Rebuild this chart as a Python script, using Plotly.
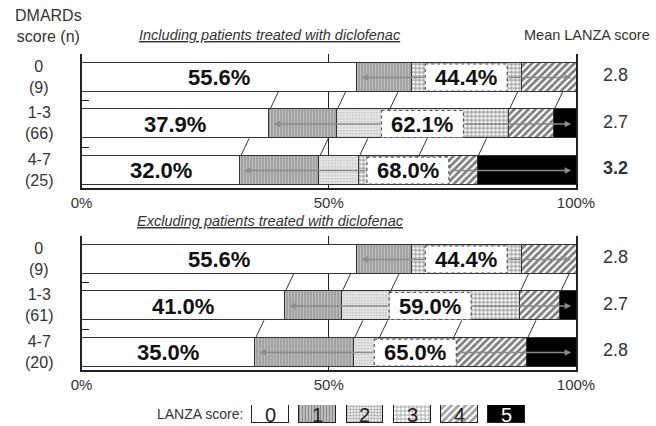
import plotly.graph_objects as go

# ---------------- data ----------------
scores = ["0", "1", "2", "3", "4", "5"]
groups = ["0", "1-3", "4-7"]
n_incl = [9, 66, 25]
n_excl = [9, 61, 20]
# percent of patients with each LANZA score (rows = DMARDs group)
incl_pct = [
    [55.6, 11.1, 0.0, 22.2, 11.1, 0.0],
    [37.9, 13.6, 10.6, 24.2, 9.1, 4.6],
    [32.0, 16.0, 8.0, 12.0, 12.0, 20.0],
]
excl_pct = [
    [55.6, 11.1, 0.0, 22.2, 11.1, 0.0],
    [41.0, 11.5, 9.8, 26.2, 8.2, 3.3],
    [35.0, 20.0, 5.0, 15.0, 15.0, 10.0],
]
mean_incl = ["2.8", "2.7", "3.2"]
mean_excl = ["2.8", "2.7", "2.8"]
mean_bold_incl = [False, False, True]
mean_bold_excl = [False, False, False]
panel_titles = ["Including patients treated with diclofenac",
                "Excluding patients treated with diclofenac"]
x_ticks = [0, 50, 100]
x_ticktext = ["0%", "50%", "100%"]

# ---------------- styles ----------------
FONT = "Arial, Liberation Sans, sans-serif"
styles = [
    dict(color="white", pattern=dict(shape="")),
    dict(color="#c8c8c8", pattern=dict(shape="|", fgcolor="#444444", size=3, solidity=0.45)),
    dict(color="#ececec", pattern=dict(shape=".", fgcolor="#888888", size=3, solidity=0.35)),
    dict(color="white", pattern=dict(shape="+", fgcolor="#000000", size=4, solidity=0.4)),
    dict(color="white", pattern=dict(shape="/", fgcolor="#000000", size=5, solidity=0.55)),
    dict(color="black", pattern=dict(shape="")),
]
W, H = 656, 426
XL, XR = 81.5, 576.0
PX_PER_UNIT = (XR - XL) / 100.0
BAR_W = 0.62
Y_RANGE = [2.376, -0.5]
panel_tops = [54.25, 236.25]
panel_h = 133.75

fig = go.Figure()
shapes = []
annotations = []

def dom_y(top, h):
    return [1 - (top + h) / H, 1 - top / H]

datasets = [(incl_pct, n_incl, mean_incl, mean_bold_incl), (excl_pct, n_excl, mean_excl, mean_bold_excl)]
for p, (pct, ns, means, bolds) in enumerate(datasets):
    xa = "x" if p == 0 else "x2"
    ya = "y" if p == 0 else "y2"
    for s in range(6):
        fig.add_trace(go.Bar(
            orientation="h", y=list(range(3)), x=[row[s] for row in pct],
            width=BAR_W, xaxis=xa, yaxis=ya, showlegend=False, hoverinfo="skip",
            marker=dict(color=styles[s]["color"], pattern=styles[s]["pattern"],
                        line=dict(color="#333333", width=1)),
        ))
    for i, row in enumerate(pct):
        cum = []
        c = 0
        for v in row:
            c += v
            cum.append(c)
        # 3D top-face edges between bars
        if i > 0:
            seen = set()
            for b in cum[:-1]:
                if b >= 99.9 or round(b, 1) in seen:
                    continue
                seen.add(round(b, 1))
                shapes.append(dict(type="line", xref=xa, yref=ya,
                                   x0=b + 0.2, y0=i - BAR_W / 2,
                                   x1=b + 1.9, y1=i - 1 + BAR_W / 2,
                                   line=dict(color="#333333", width=1)))
        # score 0 label
        annotations.append(dict(xref=xa, yref=ya, x=row[0] / 2, y=i,
                                text="<b>%.1f%%</b>" % row[0], showarrow=False,
                                font=dict(family=FONT, size=22, color="#111111")))
        # rest group label box
        start = row[0]
        center = (start + 100) / 2
        half = 41 / PX_PER_UNIT
        shapes.append(dict(type="rect", xref=xa, yref=ya, layer="above",
                           x0=center - half, x1=center + half,
                           y0=i - 0.29, y1=i + 0.29, fillcolor="white",
                           line=dict(color="#555555", width=1.2, dash="dot")))
        annotations.append(dict(xref=xa, yref=ya, x=center, y=i,
                                text="<b>%.1f%%</b>" % (100 - row[0]), showarrow=False,
                                font=dict(family=FONT, size=22, color="#111111")))
        # arrows spanning the group
        for head, tail in [(start + 1.0, center - half), (99.0, center + half)]:
            annotations.append(dict(xref=xa, yref=ya, axref=xa, ayref=ya,
                                    x=head, y=i, ax=tail, ay=i, text="",
                                    showarrow=True, arrowhead=2, arrowsize=0.8,
                                    arrowwidth=1.6, arrowcolor="#8c8c8c"))
        # left group label
        annotations.append(dict(xref="paper", yref=ya, x=39 / W, y=i - 0.02,
                                text="%s<br>(%d)" % (groups[i], ns[i]), showarrow=False,
                                xanchor="center", align="center",
                                font=dict(family=FONT, size=16, color="#333333")))
        # mean score
        t = "<b>%s</b>" % means[i] if bolds[i] else means[i]
        annotations.append(dict(xref="paper", yref=ya, x=615 / W, y=i - 0.05,
                                text=t, showarrow=False, xanchor="center",
                                font=dict(family=FONT, size=18, color="#333333")))
    # panel title
    ty = 35 if p == 0 else 221
    annotations.append(dict(xref="paper", yref="paper", x=270 / W, y=1 - ty / H,
                            text="<i><span style='text-decoration:underline'>%s</span></i>" % panel_titles[p],
                            showarrow=False, xanchor="center", yanchor="middle",
                            font=dict(family=FONT, size=14.5, color="#333333")))

# headers
annotations.append(dict(xref="paper", yref="paper", x=48 / W, y=1 - 26 / H,
                        text="DMARDs<br>score (n)", showarrow=False, xanchor="center",
                        yanchor="middle", align="center",
                        font=dict(family=FONT, size=16, color="#333333")))
annotations.append(dict(xref="paper", yref="paper", x=522 / W, y=1 - 35 / H,
                        text="Mean LANZA score", showarrow=False, xanchor="left",
                        yanchor="middle", font=dict(family=FONT, size=14.5, color="#333333")))

# legend as a small bar axis
fig.add_trace(go.Bar(
    x=list(range(6)), y=[1] * 6, width=0.78, xaxis="x3", yaxis="y3", showlegend=False,
    hoverinfo="skip",
    marker=dict(color=[st["color"] for st in styles],
                pattern=dict(shape=[st["pattern"]["shape"] for st in styles],
                             fgcolor=[st["pattern"].get("fgcolor", "black") for st in styles],
                             size=[st["pattern"].get("size", 8) for st in styles],
                             solidity=[st["pattern"].get("solidity", 0.3) for st in styles]),
                line=dict(color="#222222", width=1)),
))
for s, lab in enumerate(scores):
    annotations.append(dict(xref="x3", yref="y3", x=s, y=0.45, text=lab, showarrow=False,
                            font=dict(family=FONT, size=20,
                                      color="white" if s == 5 else "#222222")))
annotations.append(dict(xref="paper", yref="paper", x=245 / W, y=1 - 414 / H,
                        text="LANZA score:", showarrow=False, xanchor="right", yanchor="middle",
                        font=dict(family=FONT, size=14, color="#333333")))

xaxis_common = dict(domain=[XL / W, XR / W], range=[0, 100], tickvals=x_ticks,
                    ticktext=x_ticktext, showgrid=True, gridcolor="#222222", gridwidth=1,
                    showline=True, linecolor="#222222", linewidth=1.5, ticks="",
                    zeroline=False, automargin=False,
                    tickfont=dict(family=FONT, size=15, color="#333333"), fixedrange=True)
yaxis_common = dict(range=Y_RANGE, tickvals=[-0.5, 0.5, 1.5], showticklabels=False,
                    ticks="inside", ticklen=8, tickcolor="#222222", showgrid=False,
                    showline=True, mirror=True, linecolor="#222222", linewidth=1.5,
                    zeroline=False, fixedrange=True, automargin=False)

fig.update_layout(
    width=W, height=H, margin=dict(l=0, r=0, t=0, b=0, autoexpand=False),
    autosize=False,
    paper_bgcolor="white", plot_bgcolor="white", barmode="stack", bargap=0,
    xaxis=dict(**xaxis_common, anchor="y"),
    yaxis=dict(**yaxis_common, domain=dom_y(panel_tops[0], panel_h), anchor="x"),
    xaxis2=dict(**xaxis_common, anchor="y2"),
    yaxis2=dict(**yaxis_common, domain=dom_y(panel_tops[1], panel_h), anchor="x2"),
    xaxis3=dict(domain=[246.9 / W, 530.1 / W], range=[-0.5, 5.5], visible=False,
                anchor="y3", fixedrange=True),
    yaxis3=dict(domain=[1 - 423 / H, 1 - 405 / H], range=[0, 1], visible=False,
                anchor="x3", fixedrange=True),
    shapes=shapes, annotations=annotations,
)

fig.write_html("out.html", config={"displayModeBar": False, "responsive": False},
               post_script="document.body.style.margin='0';document.body.style.overflow='hidden';document.documentElement.style.overflow='hidden';")
